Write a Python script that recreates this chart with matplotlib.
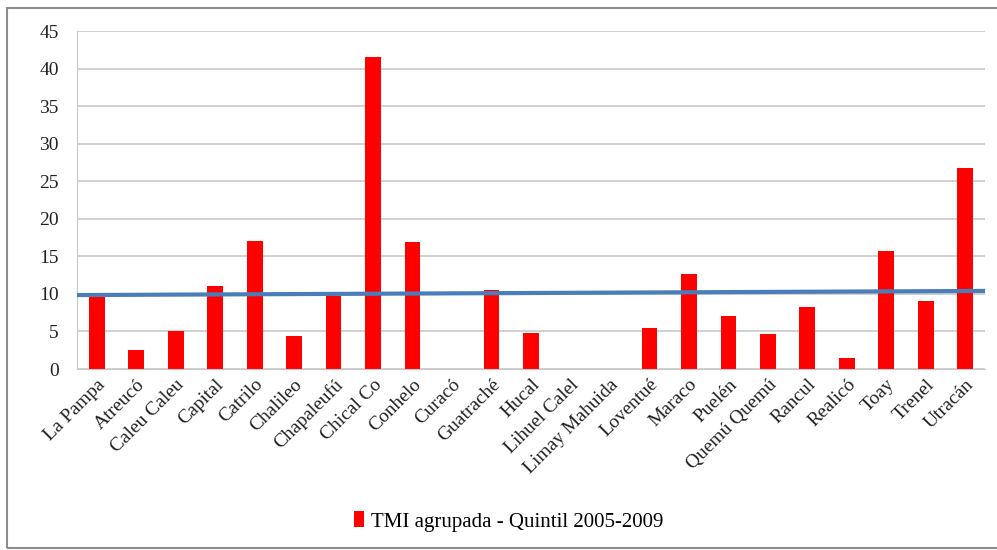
import numpy as np
import matplotlib
matplotlib.use("Agg")
import matplotlib.pyplot as plt
from matplotlib.patches import Rectangle

departamentos = [
    "La Pampa", "Atreucó", "Caleu Caleu", "Capital", "Catrilo", "Chalileo",
    "Chapaleufú", "Chical Co", "Conhelo", "Curacó", "Guatraché", "Hucal",
    "Lihuel Calel", "Limay Mahuida", "Loventué", "Maraco", "Puelén",
    "Quemú Quemú", "Rancul", "Realicó", "Toay", "Trenel", "Utracán",
]
tmi = [9.7, 2.5, 5.0, 11.0, 17.0, 4.4, 9.7, 41.6, 16.9, 0.0, 10.5, 4.8,
       0.0, 0.0, 5.4, 12.6, 7.0, 4.6, 8.2, 1.5, 15.7, 9.1, 26.7]
# blue reference line (start / end values)
linea = [9.85, 10.4]
y_ticks = list(range(0, 50, 5))

plt.rcParams["font.family"] = ["Liberation Serif", "DejaVu Serif"]

fig = plt.figure(figsize=(9.97, 5.50), dpi=100)
ax = fig.add_axes([0.0772, 0.329, 0.9108, 0.6146])

x = np.arange(len(departamentos))
ax.bar(x, tmi, width=0.4, color="#ff0000", zorder=2,
       label="TMI agrupada - Quintil 2005-2009")
ax.plot([x[0] - 0.45, x[-1] + 0.5], linea, color="#4a7ebb", lw=3, zorder=3)

ax.set_xlim(-0.5, len(departamentos) - 0.5)
ax.set_ylim(0, 45)
ax.set_yticks(y_ticks)
ax.set_yticklabels([str(t) for t in y_ticks], fontsize=14, color="#222222")
ax.set_xticks(x)
ax.set_xticklabels(departamentos, rotation=45, ha="right", rotation_mode="anchor",
                   fontsize=14, color="#222222")
ax.tick_params(axis="y", length=0, pad=13)
ax.tick_params(axis="x", length=0, pad=5)

ax.grid(axis="y", color="#c8c8c8", lw=1.2, zorder=0)
for s in ["top", "right"]:
    ax.spines[s].set_visible(False)
ax.spines["left"].set_color("#c8c8c8")
ax.spines["bottom"].set_color("#c8c8c8")

fig.legend(loc="center", bbox_to_anchor=(0.51, 0.052), frameon=False,
           fontsize=15, handlelength=0.5, handleheight=0.8, handletextpad=0.3)

fig.patches.append(Rectangle((7 / 997, 2 / 550), 1.0, 540 / 550,
                             transform=fig.transFigure, fill=False,
                             edgecolor="#8c8c8c", lw=1.5))

fig.savefig("out.png", dpi=100)
